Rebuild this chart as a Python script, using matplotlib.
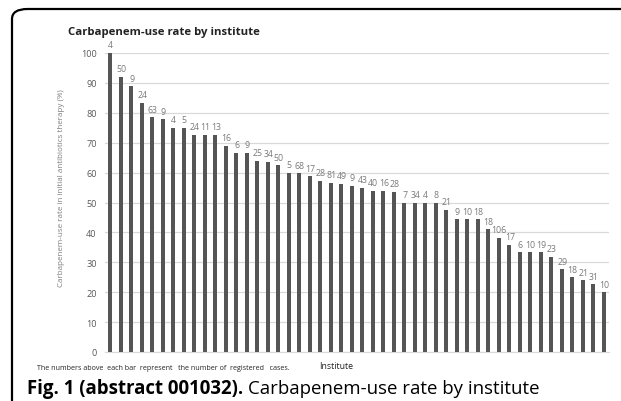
import matplotlib
matplotlib.use("Agg")
import matplotlib.pyplot as plt
from matplotlib.patches import FancyBboxPatch
import numpy as np

rates = [100, 92, 88.9, 83.3, 78.5, 77.8, 75, 75, 72.7, 72.7, 72.7, 68.9, 66.7, 66.7,
         64, 63.6, 62.5, 60, 59.8, 58.8, 57.2, 56.6, 56.2, 55.6, 54.9, 54, 54, 53.6,
         50, 50, 50, 50, 47.6, 44.4, 44.4, 44.4, 41.1, 38.2, 35.8, 33.3, 33.3, 33.3,
         31.9, 27.6, 25, 24, 22.6, 20]
cases = [4, 50, 9, 24, 63, 9, 4, 5, 24, 11, 13, 16, 6, 9, 25, 34, 50, 5, 68, 17, 28,
         81, 49, 9, 43, 40, 16, 28, 7, 34, 4, 8, 21, 9, 10, 18, 18, 106, 17, 6, 10, 19,
         23, 29, 18, 21, 31, 10]
yticks = list(range(0, 101, 10))

W, H = 621, 402
fig = plt.figure(figsize=(W / 100, H / 100), dpi=100)
fig.patch.set_facecolor("white")

# frame
frame = FancyBboxPatch((12 / W, -0.2), 1.2, (H - 10) / H + 0.2,
                       boxstyle="round,pad=0,rounding_size=0.025",
                       transform=fig.transFigure, fill=False, ec="black", lw=1.6,
                       clip_on=False)
fig.patches.append(frame)

ax = fig.add_axes([105 / W, 1 - 353 / H, (609 - 105) / W, (353 - 54) / H])
x = np.arange(len(rates))
ax.bar(x, rates, width=0.34, color="#555555", zorder=3)
for xi, r, c in zip(x, rates, cases):
    ax.text(xi + 0.05, r + 1.2, str(c), ha="center", va="bottom", fontsize=6.3,
            color="#7a7a7a", family="Open Sans")
ax.set_xlim(-0.5, len(rates) - 0.5)
ax.set_ylim(0, 100)
ax.set_yticks(yticks)
ax.set_yticklabels([str(t) for t in yticks], fontsize=6.6, color="#595959",
                   family="Open Sans")
ax.set_xticks([])
ax.tick_params(axis="y", length=0, pad=6)
ax.grid(axis="y", color="#d9d9d9", lw=0.9, zorder=0)
for s in ["top", "right", "left"]:
    ax.spines[s].set_visible(False)
ax.spines["bottom"].set_color("#d9d9d9")
ax.set_ylabel("Carbapenem-use rate in initial antibiotics therapy (%)", fontsize=5.8,
              color="#7f7f7f", family="Open Sans")
ax.yaxis.set_label_coords(-(105 - 65) / (609 - 105), (353 - 188) / (353 - 54))

fig.text(68 / W, 1 - 32 / H, "Carbapenem-use rate by institute", fontsize=8.2,
         fontweight="bold", family="Open Sans", va="center", ha="left", color="#222222")
fig.text(37 / W, 1 - 368 / H,
         "The numbers above  each bar  represent   the number of  registered   cases.",
         fontsize=5.1, family="Open Sans", va="center", ha="left", color="#222222")
fig.text(336 / W, 1 - 367 / H, "Institute", fontsize=6.3, family="Open Sans",
         va="center", ha="center", color="#222222")

t1 = fig.text(27 / W, 1 - 389 / H, "Fig. 1 (abstract 001032).", fontsize=13.4,
              fontweight="bold", family="Open Sans", va="center", ha="left")
fig.canvas.draw()
bb = t1.get_window_extent()
fig.text(bb.x1 / W + 5 / W, 1 - 389 / H, "Carbapenem-use rate by institute",
         fontsize=13.4, family="Open Sans", va="center", ha="left")

fig.savefig("out.png", dpi=100)
